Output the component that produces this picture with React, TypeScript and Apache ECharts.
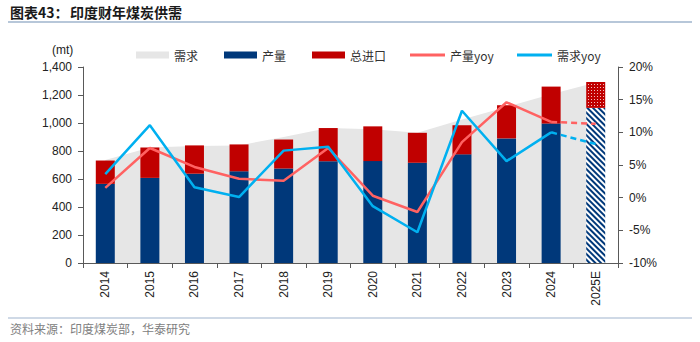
import React, { useEffect, useRef } from "react";
import * as echarts from "echarts";

const years = ["2014", "2015", "2016", "2017", "2018", "2019", "2020", "2021", "2022", "2023", "2024", "2025E"];
const demand = [735, 825, 836, 840, 900, 965, 955, 930, 1025, 1115, 1205, 1290];
const production = [565, 608, 638, 655, 675, 727, 728, 716, 776, 890, 996, 1108];
const imports = [167, 217, 202, 192, 207, 237, 248, 214, 208, 237, 264, 185];
const prodYoy = [1.5, 7.6, 4.7, 2.9, 2.6, 7.6, 0.3, -2.2, 8.5, 14.6, 11.6, 11.3];
const demandYoy = [3.6, 11.1, 1.6, 0.1, 7.2, 7.8, -1.3, -5.3, 13.3, 5.6, 10.0, 8.2];
const leftTicks = { min: 0, max: 1400, interval: 200 };
const rightTicks = { min: -10, max: 20, interval: 5 };

const NAVY = "#00387A";
const RED = "#C00000";
const GREY = "#E6E6E6";
const SALMON = "#FF6262";
const BLUE = "#00B0F0";
const AXIS = "#595959";
const LATIN = "'Liberation Sans', Arial, sans-serif";
const CJK = "'Noto Sans CJK SC', sans-serif";

export default function App() {
  const ref = useRef<HTMLDivElement>(null);
  useEffect(() => {
    if (!ref.current) return;
    const chart = echarts.init(ref.current, null, { renderer: "svg" });
    const last = years.length - 1;
    const solid = (arr: number[]) => arr.map((v, i) => (i < last ? v : "-"));
    const dashed = (arr: number[]) => arr.map((v, i) => (i >= last - 1 ? v : "-"));
    const legendBase = {
      top: 44,
      textStyle: { fontFamily: CJK, fontSize: 12, color: "#333" },
    };
    chart.setOption({
      animation: false,
      backgroundColor: "#fff",
      grid: { left: 83, right: 82, top: 67, bottom: 79 },
      legend: [
        { ...legendBase, left: 131, itemWidth: 33, itemHeight: 7, data: [{ name: "需求", icon: "rect" }] },
        { ...legendBase, left: 219, itemWidth: 33, itemHeight: 7, data: [{ name: "产量", icon: "rect" }] },
        { ...legendBase, left: 307, itemWidth: 33, itemHeight: 7, data: [{ name: "总进口", icon: "rect" }] },
        { ...legendBase, left: 405, itemWidth: 35, itemHeight: 3, data: [{ name: "产量yoy", icon: "rect" }] },
        { ...legendBase, left: 512, itemWidth: 35, itemHeight: 3, data: [{ name: "需求yoy", icon: "rect" }] },
      ],
      xAxis: {
        type: "category",
        data: years,
        axisLine: { lineStyle: { color: AXIS } },
        axisTick: { show: true, length: 5, lineStyle: { color: AXIS } },
        axisLabel: { rotate: 90, margin: 8, fontSize: 12, fontFamily: LATIN, color: "#222" },
      },
      yAxis: [
        {
          type: "value",
          ...leftTicks,
          axisLine: { show: true, lineStyle: { color: AXIS } },
          axisTick: { show: true, length: 5, lineStyle: { color: AXIS } },
          splitLine: { show: false },
          axisLabel: {
            margin: 11,
            fontSize: 12,
            fontFamily: LATIN,
            color: "#222",
            formatter: (v: number) => v.toLocaleString("en-US"),
          },
        },
        {
          type: "value",
          ...rightTicks,
          axisLine: { show: true, lineStyle: { color: AXIS } },
          axisTick: { show: true, length: 5, lineStyle: { color: AXIS } },
          splitLine: { show: false },
          axisLabel: { margin: 11, fontSize: 12, fontFamily: LATIN, color: "#222", formatter: "{value}%" },
        },
      ],
      series: [
        {
          name: "需求",
          type: "line",
          data: demand,
          symbol: "none",
          z: 1,
          itemStyle: { color: GREY },
          lineStyle: { width: 0, color: GREY },
          areaStyle: { color: GREY, opacity: 1 },
        },
        {
          name: "产量",
          type: "bar",
          stack: "total",
          barWidth: 19,
          z: 2,
          itemStyle: { color: NAVY },
          data: production.map((v, i) =>
            i === last
              ? {
                  value: v,
                  itemStyle: {
                    color: "#fff",
                    decal: {
                      symbol: "rect",
                      symbolSize: 1,
                      color: NAVY,
                      dashArrayX: [1, 0],
                      dashArrayY: [2, 2],
                      rotation: Math.PI / 4,
                    },
                  },
                }
              : v
          ),
        },
        {
          name: "总进口",
          type: "bar",
          stack: "total",
          barWidth: 19,
          z: 2,
          itemStyle: { color: RED },
          data: imports.map((v, i) =>
            i === last
              ? {
                  value: v,
                  itemStyle: {
                    color: RED,
                    decal: {
                      symbol: "rect",
                      symbolSize: 1,
                      color: "rgba(255,255,255,0.75)",
                      dashArrayX: [1, 2],
                      dashArrayY: [1, 2],
                      rotation: 0,
                    },
                  },
                }
              : v
          ),
        },
        {
          name: "产量yoy",
          type: "line",
          yAxisIndex: 1,
          data: solid(prodYoy),
          symbol: "none",
          z: 3,
          itemStyle: { color: SALMON },
          lineStyle: { width: 2.5, color: SALMON },
        },
        {
          name: "产量yoy预测",
          type: "line",
          yAxisIndex: 1,
          data: dashed(prodYoy),
          symbol: "none",
          z: 3,
          itemStyle: { color: SALMON },
          lineStyle: { width: 2.5, color: SALMON, type: [6, 4] },
        },
        {
          name: "需求yoy",
          type: "line",
          yAxisIndex: 1,
          data: solid(demandYoy),
          symbol: "none",
          z: 3,
          itemStyle: { color: BLUE },
          lineStyle: { width: 2.5, color: BLUE },
        },
        {
          name: "需求yoy预测",
          type: "line",
          yAxisIndex: 1,
          data: dashed(demandYoy),
          symbol: "none",
          z: 3,
          itemStyle: { color: BLUE },
          lineStyle: { width: 2.5, color: BLUE, type: [6, 4] },
        },
      ],
      graphic: [
        {
          type: "text",
          left: 10,
          top: 5,
          style: { text: "图表43：", fontFamily: CJK, fontSize: 14, fontWeight: "bold", fill: "#1a1a1a" },
        },
        {
          type: "text",
          left: 70,
          top: 5,
          style: { text: "印度财年煤炭供需", fontFamily: CJK, fontSize: 14, fontWeight: "bold", fill: "#1a1a1a" },
        },
        {
          type: "line",
          shape: { x1: 8, y1: 22, x2: 692, y2: 22 },
          style: { stroke: "#9FB4CD", lineWidth: 1.5 },
        },
        {
          type: "text",
          left: 52,
          top: 44,
          style: { text: "(mt)", fontFamily: LATIN, fontSize: 12, fill: "#222" },
        },
        {
          type: "line",
          shape: { x1: 8, y1: 318, x2: 692, y2: 318 },
          style: { stroke: "#9FB4CD", lineWidth: 1.2 },
        },
        {
          type: "text",
          left: 10,
          top: 322,
          style: { text: "资料来源：印度煤炭部，华泰研究", fontFamily: CJK, fontSize: 12, fill: "#808080" },
        },
      ],
    });
    return () => chart.dispose();
  }, []);
  return (
    <div
      ref={ref}
      style={{ position: "absolute", left: 0, top: 0, width: 700, height: 342 }}
    />
  );
}
